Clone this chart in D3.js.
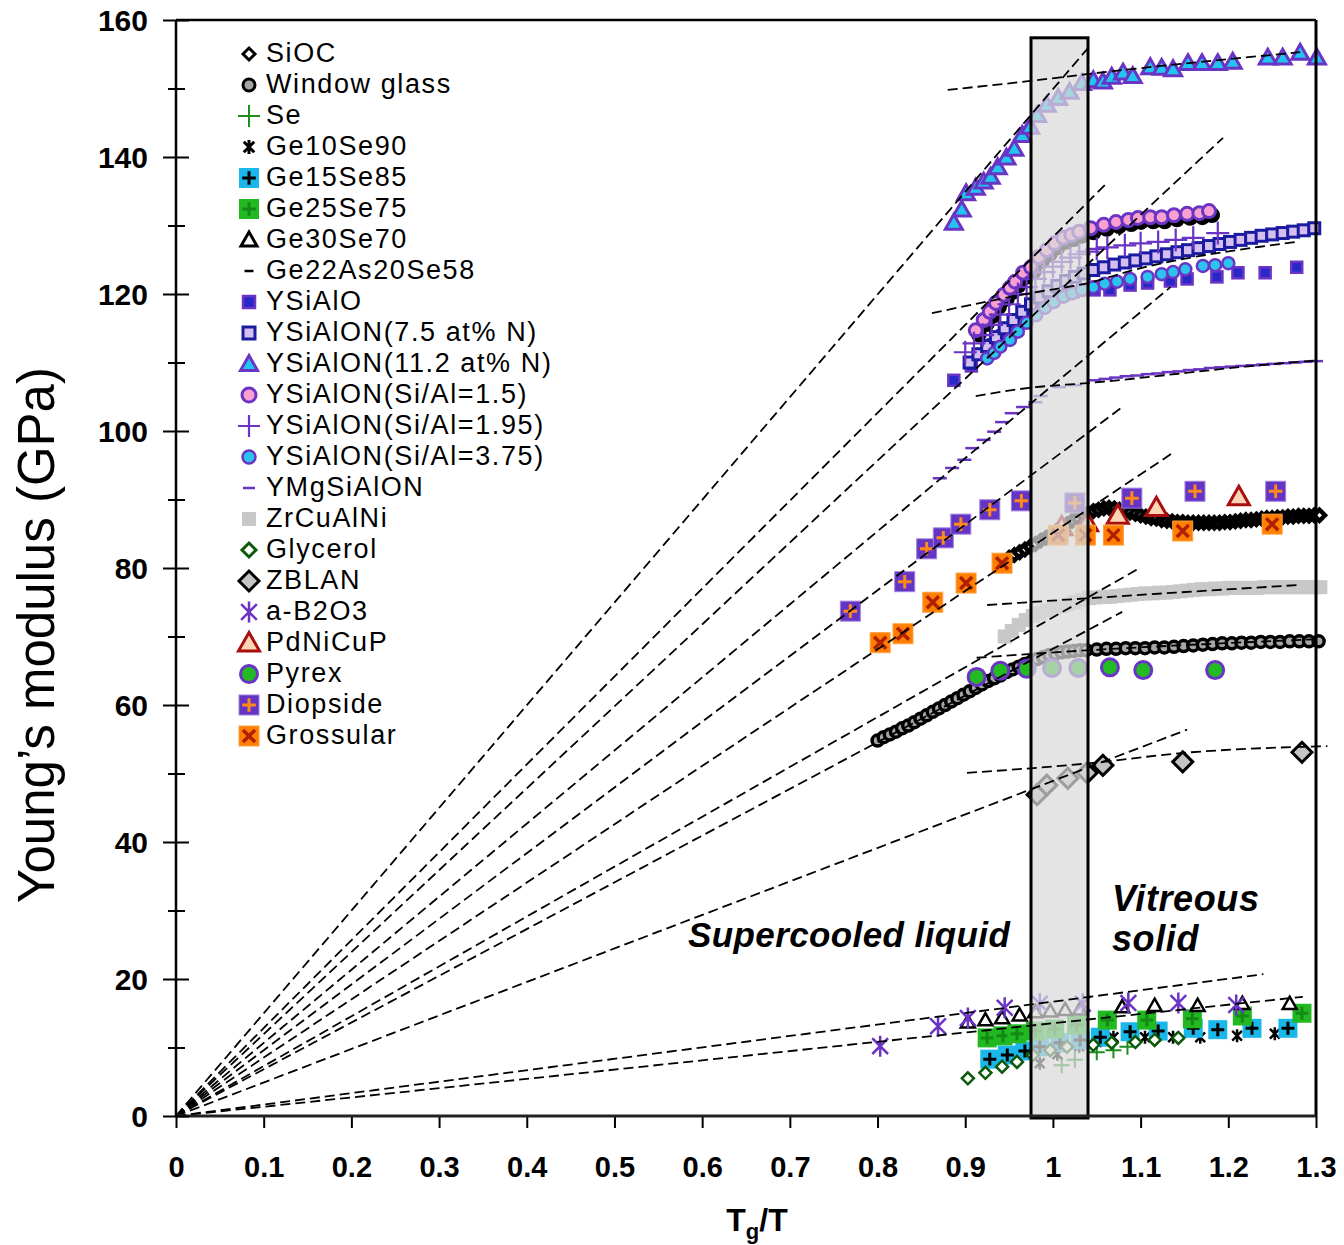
<!DOCTYPE html>
<html><head><meta charset="utf-8">
<script src="https://cdn.jsdelivr.net/npm/d3@7"></script>
<style>body{margin:0;background:#fff}svg{display:block}text{font-family:"Liberation Sans",Arial,sans-serif}</style>
</head><body><svg id="c" width="1344" height="1245"></svg>
<script>
// ---------------- DATA ----------------
const xTicks=[0,0.1,0.2,0.3,0.4,0.5,0.6,0.7,0.8,0.9,1,1.1,1.2,1.3];
const yMajor=[0,20,40,60,80,100,120,140,160];
const yMinor=[10,30,50,70,90,110,130,150];
const legendNames=["SiOC","Window glass","Se","Ge10Se90","Ge15Se85","Ge25Se75","Ge30Se70","Ge22As20Se58","YSiAlO","YSiAlON(7.5 at% N)","YSiAlON(11.2 at% N)","YSiAlON(Si/Al=1.5)","YSiAlON(Si/Al=1.95)","YSiAlON(Si/Al=3.75)","YMgSiAlON","ZrCuAlNi","Glycerol","ZBLAN","a-B2O3","PdNiCuP","Pyrex","Diopside","Grossular"];
const glassBand=[0.975,1.04];
const bandTop=157.4;

const sioc=[[0.950,81.5],[0.956,81.9],[0.962,82.3],[0.968,82.7],[0.974,83.1],[0.980,83.5],[0.986,84.0],[0.992,84.4],[0.998,84.9],[1.004,85.4],[1.010,85.9],[1.016,86.4],[1.022,86.9],[1.028,87.3],[1.034,87.7],[1.040,88.0],[1.046,88.3],[1.052,88.5],[1.058,88.7],[1.064,88.8],[1.070,88.7],[1.076,88.5],[1.082,88.3],[1.088,88.1],[1.094,87.9],[1.100,87.7],[1.106,87.5],[1.112,87.3],[1.118,87.2],[1.124,87.0],[1.130,86.9],[1.136,86.8],[1.142,86.7],[1.148,86.7],[1.154,86.6],[1.160,86.6],[1.166,86.6],[1.172,86.6],[1.178,86.6],[1.184,86.6],[1.190,86.6],[1.196,86.7],[1.202,86.7],[1.208,86.8],[1.214,86.9],[1.220,87.0],[1.226,87.0],[1.232,87.1],[1.238,87.2],[1.244,87.3],[1.250,87.3],[1.256,87.4],[1.262,87.4],[1.268,87.5],[1.274,87.5],[1.280,87.6],[1.286,87.6],[1.292,87.6],[1.298,87.7],[1.304,87.7]];
const windowGlass=[[0.800,54.8],[0.807,55.3],[0.814,55.7],[0.821,56.1],[0.828,56.6],[0.835,57.0],[0.842,57.5],[0.849,58.0],[0.856,58.5],[0.863,59.0],[0.870,59.5],[0.877,60.0],[0.884,60.5],[0.891,61.0],[0.898,61.5],[0.905,62.0],[0.912,62.5],[0.919,63.0],[0.926,63.5],[0.933,63.9],[0.940,64.3],[0.947,64.8],[0.954,65.2],[0.961,65.6],[0.968,66.0],[0.975,66.3],[0.982,66.7],[0.989,67.0],[0.996,67.3],[1.003,67.5],[1.010,67.7],[1.017,67.8],[1.024,67.9],[1.031,68.0],[1.038,68.0],[1.050,68.1],[1.061,68.2],[1.072,68.2],[1.083,68.3],[1.094,68.3],[1.105,68.3],[1.116,68.4],[1.127,68.4],[1.138,68.5],[1.149,68.6],[1.160,68.7],[1.171,68.8],[1.182,68.9],[1.193,69.0],[1.204,69.0],[1.215,69.1],[1.226,69.1],[1.237,69.2],[1.248,69.2],[1.259,69.2],[1.270,69.3],[1.281,69.3],[1.292,69.3],[1.303,69.3]];
const se=[[1.010,7.4],[1.025,8.2],[1.050,9.3],[1.069,9.6],[1.085,10.1]];
const ge10se90=[[0.985,7.7],[1.005,9.0],[1.030,10.2],[1.050,10.8],[1.069,11.5],[1.105,11.5],[1.137,11.5],[1.168,11.5],[1.210,11.7],[1.253,12.0]];
const ge15se85=[[0.928,8.3],[0.948,8.9],[0.968,9.5],[0.985,10.1],[1.008,10.7],[1.031,11.1],[1.054,11.5],[1.088,12.3],[1.120,12.4],[1.160,12.8],[1.188,12.6],[1.227,12.8],[1.268,12.8]];
const ge25se75=[[0.925,11.4],[0.943,11.7],[0.959,12.0],[0.980,12.4],[1.002,12.7],[1.027,13.3],[1.062,14.0],[1.107,14.0],[1.159,14.2],[1.216,14.6],[1.284,15.0]];
const ge30se70=[[0.903,13.7],[0.923,14.0],[0.942,14.3],[0.962,14.7],[0.980,15.2],[0.997,15.3],[1.014,15.5],[1.031,15.6],[1.079,15.9],[1.116,16.1],[1.165,16.1],[1.216,16.4],[1.270,16.4]];
const ge22as20se58=[];
const ysialo=[[0.887,107.4],[0.907,109.5],[0.920,111.2],[0.932,112.6],[0.943,113.9],[0.955,115.0],[0.966,116.2],[0.977,117.2],[0.989,118.2],[1.000,119.1],[1.012,119.9],[1.023,120.3],[1.034,120.6],[1.047,120.6],[1.065,120.6],[1.088,121.3],[1.108,121.6],[1.134,121.9],[1.153,122.2],[1.187,122.5],[1.211,123.1],[1.242,123.1],[1.278,123.9]];
const ysialon75=[[0.905,110.0],[0.915,111.2],[0.925,112.4],[0.935,113.7],[0.945,115.0],[0.955,116.2],[0.965,117.4],[0.975,118.5],[0.985,119.5],[0.995,120.4],[1.005,121.2],[1.015,121.9],[1.025,122.5],[1.035,123.0],[1.046,123.5],[1.058,123.9],[1.070,124.3],[1.082,124.6],[1.094,124.9],[1.106,125.2],[1.118,125.5],[1.130,125.8],[1.142,126.1],[1.154,126.4],[1.166,126.7],[1.178,127.0],[1.190,127.3],[1.202,127.6],[1.214,127.9],[1.226,128.2],[1.238,128.5],[1.250,128.7],[1.262,128.9],[1.274,129.1],[1.286,129.3],[1.298,129.6]];
const ysialon112=[[0.887,130.4],[0.896,132.3],[0.901,134.7],[0.912,135.5],[0.921,136.4],[0.929,137.1],[0.937,138.5],[0.947,139.9],[0.956,141.2],[0.965,143.2],[0.974,144.4],[0.982,146.1],[0.993,147.6],[1.006,148.6],[1.019,149.5],[1.033,150.8],[1.046,151.2],[1.057,151.0],[1.067,151.7],[1.080,152.3],[1.091,151.8],[1.111,153.1],[1.124,153.0],[1.137,152.8],[1.154,153.7],[1.170,153.7],[1.188,153.7],[1.205,153.9],[1.245,154.5],[1.262,154.5],[1.282,155.2],[1.301,154.5]];
const siAl15=[[0.912,114.7],[0.921,116.2],[0.928,117.4],[0.935,118.7],[0.944,119.9],[0.951,120.9],[0.957,121.8],[0.966,123.1],[0.975,123.9],[0.984,125.4],[0.993,126.4],[1.002,127.4],[1.012,128.2],[1.021,128.6],[1.030,129.1],[1.043,129.6],[1.058,130.1],[1.072,130.5],[1.086,130.8],[1.097,131.1],[1.111,131.2],[1.124,131.2],[1.138,131.5],[1.153,131.7],[1.167,131.8],[1.178,132.1]];
const siAl195=[[0.900,111.5],[0.910,112.8],[0.920,114.0],[0.930,115.5],[0.940,117.0],[0.950,118.5],[0.960,120.0],[0.970,121.0],[0.980,122.2],[0.990,123.2],[1.000,124.0],[1.010,124.7],[1.020,125.3],[1.030,125.8],[1.040,126.2],[1.050,126.6],[1.062,126.8],[1.082,127.1],[1.100,127.4],[1.120,127.6],[1.140,127.9],[1.160,128.2],[1.188,128.9]];
const siAl375=[[0.925,110.6],[0.933,111.4],[0.940,112.3],[0.951,113.3],[0.960,114.5],[0.970,115.8],[0.981,116.9],[0.991,118.0],[1.001,118.8],[1.012,119.6],[1.022,120.1],[1.033,120.6],[1.046,121.0],[1.059,121.5],[1.073,121.8],[1.088,122.2],[1.108,122.5],[1.124,122.9],[1.137,123.2],[1.151,123.6],[1.171,124.1],[1.185,124.2],[1.200,124.5]];
const ymgsialon=[[0.871,93.1],[0.885,94.6],[0.899,95.8],[0.908,97.5],[0.921,98.7],[0.933,99.9],[0.942,101.3],[0.953,102.6],[0.966,103.5],[0.980,104.2],[0.986,105.1],[1.007,106.4],[1.025,106.7],[1.047,107.4],[1.060,107.6],[1.072,107.8],[1.084,108.0],[1.096,108.1],[1.108,108.3],[1.120,108.4],[1.132,108.6],[1.144,108.7],[1.156,108.9],[1.168,109.0],[1.180,109.2],[1.192,109.3],[1.204,109.4],[1.216,109.5],[1.228,109.6],[1.240,109.7],[1.252,109.8],[1.264,109.9],[1.276,110.0],[1.288,110.1],[1.300,110.2]];
const zrcualni=[[0.945,70.0],[0.953,70.8],[0.961,71.7],[0.969,72.4],[0.977,73.0],[0.985,73.4],[0.993,73.8],[1.001,74.1],[1.009,74.4],[1.017,74.7],[1.025,75.0],[1.033,75.3],[1.041,75.6],[1.049,75.7],[1.057,75.8],[1.065,75.8],[1.073,75.9],[1.081,76.0],[1.089,76.1],[1.097,76.2],[1.105,76.3],[1.113,76.3],[1.121,76.4],[1.129,76.4],[1.137,76.5],[1.145,76.6],[1.153,76.7],[1.161,76.8],[1.169,76.9],[1.177,76.9],[1.185,77.0],[1.193,77.0],[1.201,77.1],[1.209,77.1],[1.217,77.1],[1.225,77.1],[1.233,77.1],[1.241,77.2],[1.249,77.2],[1.257,77.2],[1.265,77.2],[1.273,77.2],[1.281,77.2],[1.289,77.2],[1.297,77.2],[1.305,77.2]];
const glycerol=[[0.903,5.5],[0.923,6.3],[0.942,7.2],[0.959,7.9],[0.977,8.9],[0.997,9.6],[1.016,10.1],[1.046,10.4],[1.067,10.7],[1.094,10.8],[1.116,11.1],[1.143,11.4]];
const zblan=[[0.982,46.9],[0.993,48.3],[1.017,49.3],[1.039,50.1],[1.057,51.2],[1.148,51.7],[1.284,53.1]];
const b2o3=[[0.803,10.2],[0.869,13.1],[0.903,14.3],[0.945,15.8],[0.985,16.4],[1.034,16.4],[1.086,16.5],[1.143,16.5],[1.209,16.2]];
const pdnicup=[[1.010,86.0],[1.039,86.6],[1.074,87.7],[1.118,88.8],[1.212,90.4]];
const pyrex=[[0.913,64.1],[0.940,65.0],[0.970,65.3],[0.999,65.4],[1.029,65.4],[1.065,65.5],[1.103,65.1],[1.185,65.1]];
const diopside=[[0.769,73.7],[0.831,78.0],[0.856,82.8],[0.875,84.4],[0.895,86.4],[0.928,88.5],[0.964,89.8],[1.025,89.5],[1.090,90.2],[1.162,91.2],[1.254,91.2]];
const grossular=[[0.803,69.1],[0.829,70.4],[0.863,75.0],[0.901,77.8],[0.942,80.7],[1.006,84.8],[1.037,84.8],[1.069,84.8],[1.148,85.4],[1.250,86.4]];

// dashed fits: liquid (through origin) and glass
const fitLiquid=[
 [[0,0],[1.040,155.9]],[[0,0],[1.063,136.4]],[[0,0],[1.194,142.8]],[[0,0],[1.134,121.0]],
 [[0,0],[1.079,103.5]],[[0,0],[1.139,97.0]],[[0,0],[1.099,80.0]],[[0,0],[1.079,73.6]],
 [[0,0],[1.153,56.4]],[[0,0],[1.240,20.7]],[[0,0],[1.285,17.4]]];
const fitGlass=[
 [[0.88,149.8],[0.974,151.1],[1.039,152.1],[1.282,155.3]],
 [[0.862,117.2],[0.973,120.1],[1.04,121.6],[1.092,123.5],[1.236,126.9],[1.278,127.6]],
 [[0.912,105.1],[0.973,106.3],[1.04,107.0],[1.236,109.6],[1.30,110.3]],
 [[0.925,74.6],[1.042,75.6],[1.278,77.5]],
 [[0.913,66.9],[1.042,68.0],[1.30,69.6]],
 [[0.902,50.1],[1.042,51.5],[1.148,53.0],[1.285,53.9],[1.313,54.0]]];

// ---------------- STYLES ----------------
const P="#6a34c4";
const styles={
 "SiOC":{t:"diamond",fill:"#fff",stroke:"#000",sw:4.5,size:11,ls:12,lsw:3},
 "Window glass":{t:"circle",fill:"#a6a6a6",stroke:"#000",sw:3.5,size:11,ls:12,lsw:3},
 "Se":{t:"plus",stroke:"#1e8c1e",sw:2,size:16,ls:22},
 "Ge10Se90":{t:"star6",stroke:"#000",sw:2.5,size:13,ls:14,lsw:3},
 "Ge15Se85":{t:"squarePlus",fill:"#1ab7ea",inner:"#000",sw:3,size:19,ls:20},
 "Ge25Se75":{t:"squarePlus",fill:"#22b822",inner:"#148a14",sw:3,size:19,ls:20},
 "Ge30Se70":{t:"triangle",fill:"#fff",stroke:"#000",sw:2.5,size:14,ls:16,lsw:3},
 "Ge22As20Se58":{t:"dash",stroke:"#000",sw:2.5,size:8,ls:9},
 "YSiAlO":{t:"square",fill:"#2828c8",stroke:P,sw:2.5,size:11,ls:12},
 "YSiAlON(7.5 at% N)":{t:"square",fill:"#d4bff0",stroke:"#1b1ba0",sw:3,size:11,ls:12},
 "YSiAlON(11.2 at% N)":{t:"triangle",fill:"#22c4f0",stroke:P,sw:3,size:17,ls:17},
 "YSiAlON(Si/Al=1.5)":{t:"circle",fill:"#f9a0d0",stroke:P,sw:3,size:13,ls:14,shadow:true},
 "YSiAlON(Si/Al=1.95)":{t:"plus",stroke:P,sw:2.2,size:23,ls:22},
 "YSiAlON(Si/Al=3.75)":{t:"circle",fill:"#2cc4ee",stroke:P,sw:2.5,size:12,ls:13},
 "YMgSiAlON":{t:"dash",stroke:P,sw:2.5,size:14,ls:12},
 "ZrCuAlNi":{t:"square",fill:"#c8c8c8",stroke:"none",sw:0,size:14,ls:14},
 "Glycerol":{t:"diamond",fill:"#fff",stroke:"#0b5a0b",sw:2.5,size:12,ls:14,lsw:3},
 "ZBLAN":{t:"diamond",fill:"#c4c4c4",stroke:"#000",sw:3,size:20,ls:20},
 "a-B2O3":{t:"star6",stroke:P,sw:2.5,size:21,ls:21},
 "PdNiCuP":{t:"triangle",fill:"#fcd5b4",stroke:"#a81010",sw:3,size:21,ls:21},
 "Pyrex":{t:"circle",fill:"#22bb22",stroke:P,sw:3,size:17,ls:17},
 "Diopside":{t:"squarePlus",fill:"#6434c4",inner:"#ff8a1a",sw:3,size:20,ls:20,border:"#a080e0"},
 "Grossular":{t:"squareX",fill:"#ff8000",inner:"#b02000",sw:3.5,size:20,ls:20,border:"#ffa040"}
};
const seriesData={"SiOC":sioc,"Window glass":windowGlass,"Se":se,"Ge10Se90":ge10se90,"Ge15Se85":ge15se85,"Ge25Se75":ge25se75,"Ge30Se70":ge30se70,"Ge22As20Se58":ge22as20se58,"YSiAlO":ysialo,"YSiAlON(7.5 at% N)":ysialon75,"YSiAlON(11.2 at% N)":ysialon112,"YSiAlON(Si/Al=1.5)":siAl15,"YSiAlON(Si/Al=1.95)":siAl195,"YSiAlON(Si/Al=3.75)":siAl375,"YMgSiAlON":ymgsialon,"ZrCuAlNi":zrcualni,"Glycerol":glycerol,"ZBLAN":zblan,"a-B2O3":b2o3,"PdNiCuP":pdnicup,"Pyrex":pyrex,"Diopside":diopside,"Grossular":grossular};

// ---------------- CHART ----------------
const svg=d3.select("#c");
const x=d3.scaleLinear().domain([0,1.3]).range([176,1316]);
const y=d3.scaleLinear().domain([0,160]).range([1116,20]);

function drawSym(g,st,sz,swo){
  const s=sz/2, sw=swo||st.sw;
  const lineAttrs=(p,c,w)=>p.attr("fill","none").attr("stroke",c).attr("stroke-width",w);
  switch(st.t){
    case "diamond": g.append("path").attr("d",`M0,${-s}L${s},0L0,${s}L${-s},0Z`).attr("fill",st.fill).attr("stroke",st.stroke).attr("stroke-width",sw).attr("stroke-linejoin","miter"); break;
    case "circle": g.append("circle").attr("r",s).attr("fill",st.fill).attr("stroke",st.stroke).attr("stroke-width",sw); break;
    case "square": g.append("rect").attr("x",-s).attr("y",-s).attr("width",sz).attr("height",sz).attr("fill",st.fill).attr("stroke",st.stroke).attr("stroke-width",sw); break;
    case "triangle": g.append("path").attr("d",`M0,${-s}L${s},${s*0.75}L${-s},${s*0.75}Z`).attr("fill",st.fill).attr("stroke",st.stroke).attr("stroke-width",sw).attr("stroke-linejoin","miter"); break;
    case "plus": lineAttrs(g.append("path").attr("d",`M${-s},0H${s}M0,${-s}V${s}`),st.stroke,sw); break;
    case "dash": lineAttrs(g.append("path").attr("d",`M${-s},0H${s}`),st.stroke,sw); break;
    case "star6": { const a=s*0.75; lineAttrs(g.append("path").attr("d",`M0,${-s}V${s}M${-a},${-a}L${a},${a}M${-a},${a}L${a},${-a}`),st.stroke,sw); break; }
    case "squarePlus": { g.append("rect").attr("x",-s).attr("y",-s).attr("width",sz).attr("height",sz).attr("fill",st.fill).attr("stroke",st.border||"none").attr("stroke-width",1);
      const i=s*0.68; lineAttrs(g.append("path").attr("d",`M${-i},0H${i}M0,${-i}V${i}`),st.inner,sw); break; }
    case "squareX": { g.append("rect").attr("x",-s).attr("y",-s).attr("width",sz).attr("height",sz).attr("fill",st.fill).attr("stroke",st.border||"none").attr("stroke-width",1);
      const i=s*0.6; lineAttrs(g.append("path").attr("d",`M${-i},${-i}L${i},${i}M${-i},${i}L${i},${-i}`),st.inner,sw); break; }
  }
}

// series markers
const plot=svg.append("g");
legendNames.forEach(name=>{
  const st=styles[name], data=seriesData[name];
  const g=plot.append("g");
  if(st.shadow){
    g.selectAll("circle.sh").data(data).join("circle").attr("class","sh")
      .attr("cx",d=>x(d[0])+3).attr("cy",d=>y(d[1])+4).attr("r",st.size/2+1.5).attr("fill","#000");
  }
  g.selectAll("g.m").data(data).join("g").attr("class","m")
    .attr("transform",d=>`translate(${x(d[0])},${y(d[1])})`)
    .each(function(){drawSym(d3.select(this),st,st.size);});
});

// glass transition band
svg.append("rect").attr("x",x(glassBand[0])).attr("y",y(bandTop))
  .attr("width",x(glassBand[1])-x(glassBand[0])).attr("height",y(0)-y(bandTop)+2)
  .attr("fill","#d9d9d9").attr("fill-opacity",0.72);

// dashed fits
const line=d3.line().x(d=>x(d[0])).y(d=>y(d[1])).curve(d3.curveMonotoneX);
svg.append("g").selectAll("path").data(fitLiquid.concat(fitGlass)).join("path")
  .attr("d",line).attr("fill","none").attr("stroke","#000").attr("stroke-width",1.8).attr("stroke-dasharray","10,5");

// band outline
svg.append("rect").attr("x",x(glassBand[0])).attr("y",y(bandTop))
  .attr("width",x(glassBand[1])-x(glassBand[0])).attr("height",y(0)-y(bandTop)+2)
  .attr("fill","none").attr("stroke","#000").attr("stroke-width",3);

// frame
svg.append("line").attr("x1",x(0)).attr("x2",x(1.3)).attr("y1",y(160)).attr("y2",y(160)).attr("stroke","#000").attr("stroke-width",2.5);
svg.append("line").attr("x1",x(1.3)).attr("x2",x(1.3)).attr("y1",y(160)).attr("y2",y(0)).attr("stroke","#000").attr("stroke-width",3);

// axes
const fs=d3.format("~g");
const gx=svg.append("g").attr("transform",`translate(0,${y(0)})`)
  .call(d3.axisBottom(x).tickValues(xTicks).tickSize(12).tickPadding(28).tickFormat(fs));
gx.select(".domain").remove();
gx.selectAll("line").attr("stroke","#000").attr("stroke-width",2);
gx.selectAll("text").attr("font-size",29).attr("font-weight","bold").attr("fill","#000").attr("font-family","Liberation Sans, Arial, sans-serif");
svg.append("line").attr("x1",x(0)).attr("x2",x(1.3)).attr("y1",y(0)).attr("y2",y(0)).attr("stroke","#222").attr("stroke-width",3);

const gy=svg.append("g").attr("transform",`translate(${x(0)},0)`)
  .call(d3.axisLeft(y).tickValues(yMajor).tickSize(13).tickPadding(15).tickFormat(fs));
gy.select(".domain").remove();
gy.selectAll("line").attr("stroke","#000").attr("stroke-width",2);
gy.selectAll("text").attr("font-size",30).attr("font-weight","bold").attr("fill","#000").attr("font-family","Liberation Sans, Arial, sans-serif").attr("dy","0.36em");
const gy2=svg.append("g").attr("transform",`translate(${x(0)},0)`).call(d3.axisRight(y).tickValues(yMajor).tickSize(13).tickFormat(""));
gy2.select(".domain").remove(); gy2.selectAll("line").attr("stroke","#000").attr("stroke-width",2);
const gm1=svg.append("g").attr("transform",`translate(${x(0)},0)`).call(d3.axisLeft(y).tickValues(yMinor).tickSize(8).tickFormat(""));
gm1.select(".domain").remove(); gm1.selectAll("line").attr("stroke","#000").attr("stroke-width",2);
const gm2=svg.append("g").attr("transform",`translate(${x(0)},0)`).call(d3.axisRight(y).tickValues(yMinor).tickSize(9).tickFormat(""));
gm2.select(".domain").remove(); gm2.selectAll("line").attr("stroke","#000").attr("stroke-width",2);
svg.append("line").attr("x1",x(0)).attr("x2",x(0)).attr("y1",y(160)).attr("y2",y(0)).attr("stroke","#000").attr("stroke-width",2.5);

// axis titles
const xt=svg.append("text").attr("x",757).attr("y",1231).attr("text-anchor","middle").attr("font-size",32).attr("font-weight","bold");
xt.append("tspan").text("T");
xt.append("tspan").attr("font-size",22).attr("dy",8).text("g");
xt.append("tspan").attr("dy",-8).text("/T");
svg.append("text").attr("transform","translate(54,635) rotate(-90)").attr("text-anchor","middle").attr("font-size",51).text("Young’s modulus (GPa)");

// annotations
svg.append("text").attr("x",688).attr("y",947).attr("font-size",35).attr("letter-spacing",0.4).attr("font-weight","bold").attr("font-style","italic").text("Supercooled liquid");
svg.append("text").attr("x",1112).attr("y",911).attr("font-size",36).attr("letter-spacing",0.6).attr("font-weight","bold").attr("font-style","italic").text("Vitreous");
svg.append("text").attr("x",1112).attr("y",951).attr("font-size",36).attr("letter-spacing",0.6).attr("font-weight","bold").attr("font-style","italic").text("solid");

// legend
const leg=svg.append("g");
legendNames.forEach((name,i)=>{
  const by=62+i*31.0;
  const st=styles[name];
  const m=leg.append("g").attr("transform",`translate(249,${by-8})`);
  drawSym(m,st,st.ls,st.lsw);
  leg.append("text").attr("x",266).attr("y",by).attr("font-size",27).attr("letter-spacing",1.6).text(name);
});
</script></body></html>
